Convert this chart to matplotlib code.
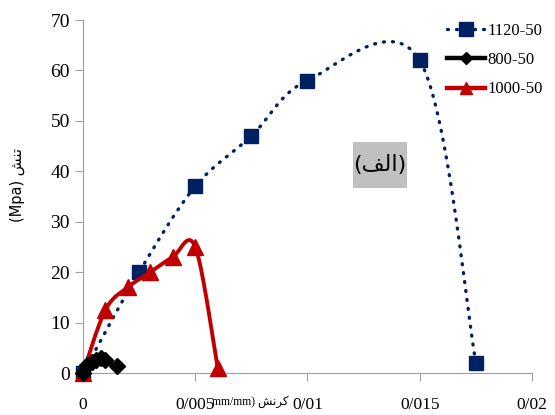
import numpy as np
import matplotlib
matplotlib.use("Agg")
import matplotlib.pyplot as plt
from matplotlib.lines import Line2D
from matplotlib.patches import Rectangle

# data
strain_1120 = [0.0, 0.0025, 0.005, 0.0075, 0.010, 0.015, 0.0175]
stress_1120 = [0.0, 20.0, 37.0, 47.0, 58.0, 62.0, 2.0]

strain_800 = [0.0, 0.0002, 0.0004, 0.0006, 0.0008, 0.0010, 0.0015]
stress_800 = [0.0, 1.6, 2.2, 2.6, 3.0, 2.6, 1.3]

strain_1000 = [0.0, 0.001, 0.002, 0.003, 0.004, 0.005, 0.006]
stress_1000 = [0.0, 12.5, 17.0, 20.0, 23.0, 25.0, 1.0]

xticks = [0, 0.005, 0.01, 0.015, 0.02]
xtick_labels = ['0', '0/005', '0/01', '0/015', '0/02']
yticks = [0, 10, 20, 30, 40, 50, 60, 70]

# Arabic letters in presentation forms, visual (left to right) order
kornesh = '\uFEB6\uFEE7\uFEAE\uFB90'   # کرنش
tanesh = '\uFEB6\uFEE8\uFE97'          # تنش
alef = '\uFED2\uFEDF\uFE8D'            # الف


def smooth(x, y, n=30):
    # Catmull-Rom / bezier spline, like Excel's smoothed line
    x = np.asarray(x, float)
    y = np.asarray(y, float)
    px = np.r_[x[0], x, x[-1]]
    py = np.r_[y[0], y, y[-1]]
    xs, ys = [], []
    t = np.linspace(0, 1, n)
    for i in range(1, len(px) - 2):
        p0, p1, p2, p3 = [np.array([px[j], py[j]]) for j in range(i - 1, i + 3)]
        c1 = p1 + (p2 - p0) / 6
        c2 = p2 - (p3 - p1) / 6
        for tt in t:
            b = ((1 - tt) ** 3) * p1 + 3 * ((1 - tt) ** 2) * tt * c1 + 3 * (1 - tt) * tt ** 2 * c2 + tt ** 3 * p2
            xs.append(b[0])
            ys.append(b[1])
    return np.array(xs), np.array(ys)


plt.rcParams['font.family'] = ['Liberation Serif', 'DejaVu Sans']

fig = plt.figure(figsize=(5.55, 4.15), dpi=100)
ax = fig.add_axes([0.1495, 0.1012, 0.8091, 0.8506])

navy = '#002060'
red = '#C00000'
dots = (0.3, 2.4)

sx, sy = smooth(strain_1120, stress_1120)
ax.plot(sx, sy, color=navy, lw=2.4, dashes=dots, dash_capstyle='round', zorder=2)
ax.plot(strain_1120, stress_1120, ls='none', marker='s', ms=10, color=navy, zorder=3)

sx, sy = smooth(strain_1000, stress_1000)
ax.plot(sx, sy, color=red, lw=2.8, zorder=4)
ax.plot(strain_1000, stress_1000, ls='none', marker='^', ms=12, color=red, zorder=5)

sx, sy = smooth(strain_800, stress_800)
ax.plot(sx, sy, color='black', lw=2.5, zorder=6)
ax.plot(strain_800, stress_800, ls='none', marker='D', ms=8, color='black', zorder=7)

ax.set_xlim(0, 0.02)
ax.set_ylim(0, 70)
ax.set_xticks(xticks)
ax.set_xticklabels(xtick_labels)
ax.set_yticks(yticks)
for s in ['top', 'right']:
    ax.spines[s].set_visible(False)
for s in ['left', 'bottom']:
    ax.spines[s].set_color('#a0a0a0')
ax.tick_params(colors='#a0a0a0', length=6, labelcolor='black')
ax.tick_params(axis='y', labelsize=14)
ax.tick_params(axis='x', labelsize=12.5, pad=11)
for ln in ax.lines:
    ln.set_clip_on(False)

handles = [
    Line2D([], [], color=navy, lw=2.4, dashes=dots, dash_capstyle='round', marker='s', ms=10),
    Line2D([], [], color='black', lw=3.2, marker='D', ms=6),
    Line2D([], [], color=red, lw=3.2, marker='^', ms=9),
]
fig.legend(handles, ['1120-50', '800-50', '1000-50'], loc='upper left',
           bbox_to_anchor=(0.805, 0.945), frameon=False, fontsize=12,
           handlelength=2.3, handletextpad=0.12, labelspacing=0.8, borderpad=0.0,
           borderaxespad=0.0)

fig.add_artist(Rectangle((353 / 555, 1 - 188 / 415), 54 / 555, 46 / 415,
                         transform=fig.transFigure, fc='#c0c0c0', ec='none'))
fig.text(380 / 555, 1 - 165 / 415, '(' + alef + ')', fontsize=16, ha='center', va='center',
         family=['DejaVu Sans'])

fig.text(0.032, 0.555, '(Mpa) ' + tanesh, rotation=90, fontsize=10.5, ha='center', va='center',
         family=['DejaVu Sans'])
fig.text(212 / 555, 1 - 402 / 415, 'mm/mm) ' + kornesh, fontsize=8.5, ha='left', va='center',
         family=['Liberation Serif', 'DejaVu Sans'])

fig.savefig('out.png', dpi=100)
